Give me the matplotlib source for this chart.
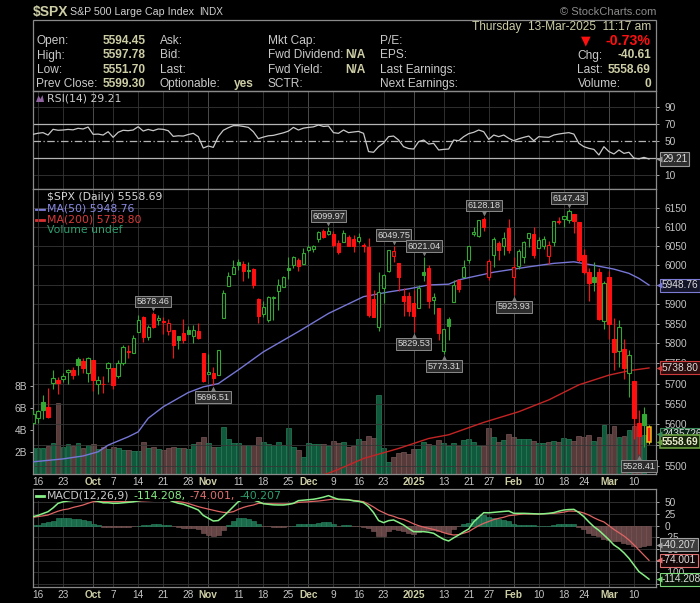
import numpy as np
import pandas as pd
import matplotlib
matplotlib.use("Agg")
import matplotlib.pyplot as plt
import matplotlib.transforms as mtransforms
from matplotlib.patches import Rectangle, Polygon
from matplotlib.lines import Line2D
from matplotlib.ticker import NullLocator

W, H = 700, 603
plt.rcParams['font.family'] = ['Liberation Sans', 'DejaVu Sans']

# trading days on the chart (13-Sep-2024 .. 13-Mar-2025)
holidays = ['2024-11-28', '2024-12-25', '2025-01-01', '2025-01-09', '2025-01-20', '2025-02-17']
days = pd.bdate_range('2024-09-13', '2025-03-13')
days = days[~days.isin(pd.to_datetime(holidays))]

opens = [5603.34, 5615.21, 5655.51, 5641.68, 5702.63, 5709.23, 5711.90, 5727.97, 5733.65, 5762.22, 5755.36, 5726.52,
         5757.73, 5698.19, 5698.19, 5737.80, 5737.80, 5719.14, 5751.80, 5778.36, 5775.09, 5829.81, 5866.74, 5816.58,
         5875.62, 5859.43, 5857.82, 5832.70, 5834.50, 5817.80, 5826.75, 5833.93, 5819.68, 5832.65, 5775.34,
         5723.22, 5725.15, 5722.43, 5864.89, 5947.21, 5976.76, 6008.86, 6003.60, 5985.75, 5989.67, 5912.79, 5874.17,
         5859.71, 5914.46, 5934.45, 5944.36, 5992.28, 6000.03, 6014.11, 6003.98,
         6040.11, 6041.99, 6069.39, 6089.03, 6081.38, 6083.01, 6057.59, 6060.15, 6074.29, 6068.17, 6063.79, 6052.55,
         6047.65, 5912.71, 5842.00, 5940.25, 5984.74, 6024.97, 6006.17, 5920.67, 5919.74,
         5903.26, 5891.07, 5982.81, 5993.26, 5910.66, 5890.01, 5782.38, 5863.01, 5905.21, 5961.24, 5969.17, 6014.12,
         6081.39, 6076.32, 6121.43, 5969.04, 6026.97, 6057.70, 6050.75, 6096.79,
         5969.65, 5998.14, 6020.45, 6072.22, 6083.13, 6046.40, 6049.32, 6025.08, 6060.59, 6115.52, 6121.60, 6117.76,
         6134.50, 6114.82, 6026.69, 5982.73, 5970.87, 5981.88, 5856.74,
         5968.33, 5811.98, 5781.41, 5785.87, 5726.01, 5705.37, 5603.65, 5624.84, 5594.45]
highs = [5636.27, 5636.05, 5670.81, 5689.75, 5733.57, 5715.14, 5725.36, 5735.32, 5741.03, 5767.37, 5763.78, 5765.14,
         5757.73, 5719.14, 5718.78, 5753.42, 5739.34, 5757.60, 5796.80, 5795.03, 5822.13, 5871.41, 5870.36, 5846.52,
         5878.46, 5872.17, 5866.92, 5863.04, 5834.85, 5817.80, 5862.82, 5842.92, 5847.19, 5850.94, 5775.34,
         5772.63, 5741.43, 5783.44, 5936.14, 5983.84, 6012.45, 6017.31, 6009.92, 6008.19, 5993.88, 5915.26, 5908.12,
         5920.30, 5920.67, 5963.13, 5972.90, 6020.75, 6025.42, 6020.16, 6044.17,
         6053.58, 6052.07, 6089.84, 6094.00, 6099.97, 6088.51, 6065.40, 6092.59, 6079.68, 6078.58, 6085.19, 6057.68,
         6070.67, 5935.52, 5982.06, 5978.25, 6040.10, 6049.75, 6006.17, 5940.79, 5929.74,
         5935.09, 5949.34, 6021.04, 6000.68, 5927.89, 5890.01, 5836.59, 5866.31, 5960.61, 5964.69, 6014.96, 6051.51,
         6100.81, 6118.73, 6128.18, 6017.17, 6074.54, 6062.83, 6086.64, 6120.91,
         6022.13, 6042.48, 6062.86, 6084.03, 6101.28, 6073.38, 6076.28, 6063.20, 6116.91, 6127.47, 6129.63, 6147.43,
         6134.50, 6114.82, 6043.65, 5992.65, 6009.82, 5993.69, 5959.40,
         5986.09, 5865.08, 5860.59, 5812.08, 5783.01, 5705.37, 5636.30, 5642.19, 5597.78]
lows = [5601.65, 5604.53, 5614.05, 5615.08, 5686.42, 5674.49, 5704.94, 5698.99, 5712.06, 5721.01, 5727.34, 5703.53,
        5681.28, 5674.00, 5677.37, 5703.74, 5686.85, 5714.56, 5745.02, 5764.76, 5775.09, 5829.81, 5804.48, 5808.34,
        5840.25, 5846.11, 5824.81, 5821.17, 5762.41, 5784.92, 5799.98, 5823.08, 5802.36, 5811.28, 5703.42,
        5723.22, 5696.51, 5722.10, 5864.89, 5947.21, 5976.76, 5986.69, 5960.08, 5965.91, 5942.28, 5853.01, 5865.95,
        5853.48, 5860.58, 5883.61, 5944.36, 5963.91, 5992.27, 5984.87, 6003.98,
        6035.33, 6033.39, 6061.06, 6072.00, 6079.98, 6048.63, 6029.89, 6060.15, 6051.25, 6035.77, 6059.14, 6035.19,
        5867.79, 5866.07, 5832.30, 5902.57, 5981.44, 6007.37, 5932.95, 5869.16, 5868.86,
        5829.53, 5888.66, 5960.01, 5890.68, 5874.78, 5809.82, 5773.31, 5809.29, 5905.21, 5930.12, 5969.17, 6006.88,
        6076.13, 6074.67, 6088.74, 5962.92, 5994.63, 6012.96, 6027.46, 6030.93,
        5923.93, 5990.87, 6007.06, 6046.83, 6019.96, 6044.84, 6042.34, 6003.00, 6050.95, 6107.62, 6099.51, 6111.15,
        6084.59, 6008.56, 5977.83, 5908.49, 5932.69, 5858.78, 5837.66,
        5810.91, 5732.59, 5742.35, 5711.64, 5666.29, 5564.02, 5528.41, 5546.09, 5551.70]
closes = [5626.02, 5633.09, 5634.58, 5618.26, 5713.64, 5702.55, 5718.57, 5732.93, 5722.26, 5745.37, 5738.17, 5762.48,
          5708.75, 5709.54, 5699.94, 5751.07, 5695.94, 5751.13, 5792.04, 5780.05, 5815.03, 5859.85, 5815.26, 5842.47,
          5841.47, 5864.67, 5853.98, 5851.20, 5797.42, 5809.86, 5808.12, 5823.52, 5832.92, 5813.67, 5705.45,
          5728.80, 5712.69, 5782.76, 5929.04, 5973.10, 5995.54, 6001.35, 5983.99, 5985.38, 5949.17, 5870.62, 5893.62,
          5916.98, 5917.11, 5948.71, 5969.34, 5987.37, 6021.63, 5998.74, 6032.38,
          6047.15, 6049.88, 6086.49, 6075.11, 6090.27, 6052.85, 6034.91, 6084.19, 6051.25, 6051.09, 6074.08, 6050.61,
          5872.16, 5867.08, 5930.85, 5974.07, 6040.04, 6037.59, 5970.84, 5906.94, 5881.63,
          5868.55, 5942.47, 5975.38, 5909.03, 5918.25, 5827.04, 5836.22, 5842.91, 5949.91, 5937.34, 5996.66, 6049.24,
          6086.37, 6118.71, 6101.24, 6012.28, 6067.70, 6039.31, 6071.17, 6040.53,
          5994.57, 6037.88, 6061.48, 6083.57, 6025.99, 6066.44, 6068.50, 6051.97, 6115.07, 6114.63, 6129.58, 6144.15,
          6117.52, 6013.13, 5983.25, 5955.25, 5956.06, 5861.57, 5954.50,
          5849.72, 5778.15, 5842.63, 5738.52, 5770.20, 5614.56, 5572.07, 5599.30, 5558.69]
# volume in billions
volume = [2.33, 2.39, 2.39, 2.55, 2.79, 6.42, 2.48, 2.70, 2.55, 2.79, 2.33, 2.64, 2.70, 2.24, 2.42, 2.24, 2.48, 2.33,
          2.18, 2.18, 2.12, 2.09, 2.88, 2.33, 2.48, 2.24, 2.18, 2.39, 2.48, 2.39, 2.33, 2.27, 2.70, 2.88, 3.33, 2.79,
          2.48, 2.48, 4.24, 3.18, 2.79, 2.79, 2.64, 2.64, 2.64, 3.33, 2.88, 2.70, 2.64, 2.88, 2.64, 4.15, 2.42, 2.18,
          1.52, 2.79, 2.70, 2.70, 2.70, 2.52, 3.00, 2.79, 2.88, 2.42, 2.55, 3.18, 3.03, 3.45, 3.24, 7.18, 2.33, 1.12,
          1.52, 1.88, 1.97, 1.82, 2.27, 2.27, 2.88, 2.70, 2.61, 3.06, 2.79, 2.55, 2.79, 2.55, 3.09, 3.18, 2.88, 2.55,
          2.55, 4.15, 3.33, 2.88, 3.09, 3.61, 3.33, 3.18, 3.18, 3.18, 3.00, 2.79, 2.79, 2.88, 3.00, 2.88, 3.30, 3.18,
          3.00, 3.45, 3.39, 3.55, 3.00, 3.33, 4.48, 3.64, 4.36, 3.33, 3.45, 4.00, 4.39, 4.21, 3.55, 0.0]

rsi = [58.2, 59.5, 60.2, 57.4, 64.1, 63.0, 63.3, 64.0, 63.5, 65.3,
       64.5, 66.8, 58.2, 58.5, 57.4, 61.3, 54.7, 60.6, 63.0, 62.5,
       63.3, 67.2, 62.1, 64.0, 62.5, 64.5, 64.1, 62.5, 55.8, 56.5,
       56.2, 58.0, 59.4, 55.5, 42.1, 44.5, 42.9, 55.5, 63.0, 66.0,
       68.4, 68.4, 67.5, 66.4, 61.3, 53.1, 55.0, 56.5, 57.0, 58.5,
       60.0, 62.0, 66.4, 63.3, 65.5, 66.4, 67.0, 69.2, 67.5, 68.0,
       60.2, 59.4, 63.3, 60.2, 61.0, 61.7, 59.4, 37.9, 37.1, 43.7,
       48.0, 55.5, 56.2, 51.5, 43.7, 41.5, 40.9, 49.6, 51.5, 46.8,
       47.6, 39.8, 40.5, 40.9, 51.5, 50.7, 55.5, 59.0, 60.6, 63.3,
       61.3, 52.3, 57.4, 55.5, 57.4, 53.5, 50.7, 53.0, 54.7, 56.2,
       50.7, 55.5, 55.0, 54.7, 57.4, 58.6, 59.5, 60.2, 58.5, 47.6,
       43.7, 41.7, 40.5, 33.9, 43.7, 37.9, 35.1, 39.8, 35.8, 37.1,
       30.2, 29.4, 31.1, 29.21]

macd = [19.3, 22.0, 26.0, 29.9, 38.0, 47.8, 51.0, 52.8, 54.0, 56.0,
        57.0, 58.0, 55.0, 52.0, 49.0, 49.0, 47.8, 48.0, 49.0, 49.9,
        51.0, 53.0, 55.0, 56.0, 57.0, 58.0, 57.0, 56.0, 51.3, 48.0,
        46.0, 42.0, 38.0, 33.5, 22.0, 16.0, 10.0, 11.0, 20.0, 30.0,
        40.7, 51.3, 56.0, 57.0, 55.0, 51.3, 47.0, 45.7, 44.5, 44.2,
        44.2, 45.5, 47.8, 53.5, 54.5, 55.5, 56.5, 58.5, 61.0, 64.2,
        60.0, 56.3, 56.0, 55.5, 53.0, 52.0, 49.2, 40.7, 28.0, 11.0,
        6.5, 10.8, 12.2, 7.0, 1.5, -6.0, -12.7, -12.7, -12.7, -14.0,
        -16.3, -23.0, -29.1, -32.7, -26.0, -19.9, -13.0, -7.0, 8.0, 18.0,
        27.8, 27.5, 28.5, 29.5, 30.5, 31.3, 26.4, 26.4, 26.4, 26.0,
        25.5, 25.0, 25.5, 26.4, 28.0, 31.0, 33.5, 34.5, 34.9, 28.0,
        19.3, 8.0, -2.1, -10.0, -19.9, -30.0, -41.2, -48.4, -58.0, -69.7,
        -84.0, -98.2, -106.0, -114.208]
signal = [17.8, 19.5, 21.0, 22.8, 27.0, 31.0, 34.0, 35.6, 39.0, 41.5,
          44.2, 48.0, 51.3, 51.5, 51.5, 51.3, 51.3, 51.5, 52.0, 52.0,
          52.5, 52.7, 53.0, 53.5, 54.0, 54.5, 55.0, 54.5, 53.0, 51.3,
          50.0, 47.5, 44.0, 40.7, 38.0, 35.5, 33.0, 30.5, 28.5, 28.0,
          30.0, 35.0, 39.0, 42.0, 44.2, 47.8, 47.5, 47.0, 46.7, 46.5,
          46.4, 46.5, 47.5, 49.9, 50.5, 51.0, 52.0, 52.7, 54.0, 55.5,
          57.0, 56.5, 55.5, 54.9, 54.0, 53.0, 51.3, 46.0, 40.0, 33.0,
          28.0, 23.0, 20.0, 16.0, 13.5, 9.0, 4.0, 0.0, -3.0, -5.6,
          -8.0, -11.0, -14.9, -18.0, -19.9, -19.0, -16.0, -12.7, -6.0, 0.0,
          5.0, 9.0, 13.0, 15.7, 18.0, 21.4, 22.5, 24.0, 25.0, 25.0,
          25.0, 25.0, 25.5, 26.0, 26.4, 27.5, 29.0, 31.3, 31.0, 30.0,
          27.0, 22.8, 17.0, 12.0, 8.0, 0.0, -8.0, -15.0, -22.0, -30.6,
          -41.0, -52.0, -63.0, -74.001]

# moving averages (trading-day index, value)
ma50_at = [0, 6, 10, 13, 15, 19, 21, 23, 26, 29, 31, 34, 37, 41, 46, 53, 59, 66, 71, 75, 79, 83, 85, 87,
           92, 99, 104, 108, 112, 116, 119, 121, 123]
ma50_val = [5510, 5517, 5524, 5534, 5550, 5570, 5582, 5615, 5643, 5664, 5678, 5692, 5700, 5734, 5779, 5830,
            5876, 5919, 5931, 5939, 5949, 5951, 5962, 5968, 5982, 5996, 6005, 6009, 6000, 5990, 5979, 5966, 5948.76]
ma200_at = [57, 61, 66, 73, 79, 83, 90, 97, 103, 109, 111, 115, 119, 123]
ma200_val = [5474, 5492, 5518, 5542, 5566, 5575, 5605, 5631, 5660, 5697, 5705, 5721, 5732, 5738.80]

callout_days = ['2024-10-17', '2024-11-04', '2024-12-06', '2024-12-26', '2025-01-02', '2025-01-06',
                '2025-01-13', '2025-01-24', '2025-02-03', '2025-02-19', '2025-03-11']
callout_vals = [5878.46, 5696.51, 6099.97, 6049.75, 5829.53, 6021.04, 5773.31, 6128.18, 5923.93, 6147.43, 5528.41]
callout_side = ['hi', 'lo', 'hi', 'hi', 'lo', 'hi', 'lo', 'hi', 'lo', 'hi', 'lo']

tick_dates = ['2024-09-16', '2024-09-23', '2024-10-01', '2024-10-07', '2024-10-14', '2024-10-21', '2024-10-28',
              '2024-11-01', '2024-11-11', '2024-11-18', '2024-11-25', '2024-12-02', '2024-12-09', '2024-12-16',
              '2024-12-23', '2025-01-02', '2025-01-13', '2025-01-21', '2025-01-27', '2025-02-03', '2025-02-10',
              '2025-02-18', '2025-02-24', '2025-03-03', '2025-03-10']
tick_text = ['16', '23', 'Oct', '7', '14', '21', '28', 'Nov', '11', '18', '25', 'Dec', '9', '16', '23', '2025',
             '13', '21', '27', 'Feb', '10', '18', '24', 'Mar', '10']
months = ['Oct', 'Nov', 'Dec', '2025', 'Feb', 'Mar']

price_grid = [5500, 5550, 5600, 5650, 5700, 5750, 5800, 5850, 5900, 5950, 6000, 6050, 6100, 6150]
price_labels = [5500, 5600, 5650, 5700, 5750, 5800, 5850, 5900, 6000, 6050, 6100, 6150]
rsi_grid = [10, 30, 50, 70, 90]
rsi_labels = [10, 50, 70, 90]
macd_grid = [-125, -100, -75, -50, -25, 0, 25, 50]
macd_labels = [-100, -50, -25, 0, 25, 50]

n = len(closes)
x = np.arange(n)
tick_idx = [days.get_loc(pd.Timestamp(d)) for d in tick_dates]
call_idx = [days.get_loc(pd.Timestamp(d)) for d in callout_days]

BG = 'black'
GRID = '#363636'
GRID_M = '#585858'
SPINE = '#8a8a8a'
TXT = '#c4c4c4'
KHAKI = '#cdcda6'
GREEN = '#33a833'
RED = '#ff1010'

fig = plt.figure(figsize=(W / 100, H / 100), dpi=100, facecolor=BG)


def fx(v):
    return v / W


def fy(v):
    return 1 - v / H


L, R = 32.5, 656


def panel(top, bottom):
    return [fx(L), fy(bottom), (R - L) / W, (bottom - top) / H]


ax_r = fig.add_axes(panel(91, 189))
ax_v = fig.add_axes(panel(189, 474))
ax_p = fig.add_axes(panel(189, 474))
ax_m = fig.add_axes(panel(489, 587))
ax_v.set_zorder(1)
ax_p.set_zorder(2)

for ax in (ax_r, ax_v, ax_p, ax_m):
    ax.set_facecolor(BG)
    ax.set_xlim(-0.1, 124.4)
    for s in ax.spines.values():
        s.set_color(SPINE)
        s.set_linewidth(0.9)
    ax.tick_params(colors=TXT, labelsize=7.3, length=2.5, width=0.6)
for s in ax_v.spines.values():
    s.set_visible(False)
ax_p.patch.set_alpha(0)


def right_ticks(ax, grid, labels):
    ax.yaxis.tick_right()
    ax.set_yticks(grid)
    ax.set_yticklabels([str(v) if v in labels else '' for v in grid])


# vertical grid
for ax in (ax_r, ax_p, ax_m):
    for i, t in zip(tick_idx, tick_text):
        ax.axvline(i, color=GRID_M if t in months else GRID, lw=0.6, zorder=0.6)

# ---------------- RSI panel ----------------
ax_r.set_ylim(-6.1, 109.2)
for lv in rsi_grid:
    if lv in (30, 70):
        ax_r.axhline(lv, color='#b4b4b4', lw=0.9, zorder=1)
    elif lv == 50:
        ax_r.axhline(lv, color='#b4b4b4', lw=0.9, ls=(0, (6, 2, 1, 2)), zorder=1)
    else:
        ax_r.axhline(lv, color=GRID, lw=0.6, zorder=0.6)
ax_r.plot(x, rsi, color='#c8c8c8', lw=0.9, zorder=3)
right_ticks(ax_r, rsi_grid, rsi_labels)
ax_r.set_xticks([])

# ---------------- price / volume panel ----------------
ax_v.set_ylim(0, 285 / 11)
up = [closes[0] >= opens[0]] + [closes[i] >= closes[i - 1] for i in range(1, n)]
vcol = ['#0f5a3c' if u else '#573b3b' for u in up]
vedge = ['#2a7f5a' if u else '#7a5757' for u in up]
ax_v.bar(x, volume, width=0.96, color=vcol, edgecolor=vedge, lw=0.5, zorder=2)
ax_v.set_yticks([2, 4, 6, 8])
ax_v.set_yticklabels(['2B', '4B', '6B', '8B'])
ax_v.tick_params(axis='y', pad=1.5)
ax_v.set_xticks([])

ax_p.set_yscale('log')
ax_p.set_ylim(5481, 6201.7)
for lv in price_grid:
    ax_p.axhline(lv, color=GRID, lw=0.6, zorder=0.6)
right_ticks(ax_p, price_grid, price_labels)
ax_p.yaxis.set_minor_locator(NullLocator())

ax_p.plot(ma50_at, ma50_val, color='#7676d6', lw=1.0, zorder=3)
ax_p.plot(ma200_at, ma200_val, color='#c42424', lw=1.0, zorder=3)

for i in range(n):
    o, h, l, c = opens[i], highs[i], lows[i], closes[i]
    col = GREEN if up[i] else RED
    hollow = c > o
    lo_b, hi_b = min(o, c), max(o, c)
    if hi_b - lo_b < 1.5:
        hi_b = lo_b + 1.5
    edge = '#e0c020' if i == n - 1 else col
    ax_p.vlines(i, l, h, color=edge, lw=0.8, zorder=4)
    ax_p.add_patch(Rectangle((i - 0.33, lo_b), 0.66, hi_b - lo_b, facecolor=BG if hollow else col,
                             edgecolor=edge, lw=1.1 if i == n - 1 else 0.8, zorder=5))

# swing-point callouts
for i, val, side in zip(call_idx, callout_vals, callout_side):
    dy = 11 if side == 'hi' else -12
    ax_p.annotate(f'{val:.2f}', xy=(i, val), xytext=(0, dy), textcoords='offset pixels', ha='center',
                  va='center', fontsize=6.6, color='#dadada', zorder=12, annotation_clip=False,
                  bbox=dict(boxstyle='square,pad=0.15', fc='#2c2c2c', ec='#8a8a8a', lw=0.7))
    off = mtransforms.offset_copy(ax_p.transData, fig=fig, x=0, y=4 if side == 'hi' else -4, units='dots')
    ax_p.plot([i], [val], marker='v' if side == 'hi' else '^', ms=4.5, color='#7c7c7c', mec='none',
              transform=off, zorder=11, clip_on=False)


def date_labels(ax):
    ax.set_xticks(tick_idx)
    ax.set_xticklabels(tick_text)
    ax.tick_params(axis='x', length=0, pad=2.0)
    for lab in ax.get_xticklabels():
        if lab.get_text() in months:
            lab.set_fontweight('bold')
            lab.set_color(KHAKI)


date_labels(ax_p)

# ---------------- MACD panel ----------------
ax_m.set_ylim(-131, 78.4)
for lv in macd_grid:
    ax_m.axhline(lv, color=GRID, lw=0.6, zorder=0.6)
hist = np.array(macd) - np.array(signal)
ax_m.bar(x, hist, width=1.0, color=['#1b6a4c' if h >= 0 else '#644444' for h in hist],
         edgecolor=['#2d8a64' if h >= 0 else '#805a5a' for h in hist], lw=0.4, zorder=2)
ax_m.plot(x, signal, color='#e06464', lw=0.9, zorder=3)
ax_m.plot(x, macd, color='#86f086', lw=1.1, zorder=4)
ax_m.add_patch(Rectangle((fx(33.5), fy(500.5)), (290 - 33.5) / W, 11 / H, transform=fig.transFigure,
                         fc=BG, ec='none', zorder=8, clip_on=False))
right_ticks(ax_m, macd_grid, macd_labels)
date_labels(ax_m)


# right-edge value tags
def rtag(ax, val, text, ec, fc, tc='#dcdcdc', bold=False, ytrans=None):
    tr = mtransforms.blended_transform_factory(ax.transAxes, ytrans if ytrans is not None else ax.transData)
    ax.annotate(text, xy=(1, val), xycoords=tr, xytext=(6, 0), textcoords='offset pixels', ha='left',
                va='center', fontsize=7.3, color=tc, fontweight='bold' if bold else 'normal',
                annotation_clip=False, zorder=20,
                bbox=dict(boxstyle='square,pad=0.15', fc=fc, ec=ec, lw=1.2 if bold else 0.8))
    off = tr + mtransforms.ScaledTranslation(3.5 / 100, 0, fig.dpi_scale_trans)
    ax.plot([1], [val], marker='<', ms=4, color=ec, mec='none', transform=off, clip_on=False, zorder=21)


rtag(ax_r, 29.21, '29.21', '#9a9a9a', '#2e2e2e')
rtag(ax_p, 5948.76, '5948.76', '#7c7cd4', '#15152a')
rtag(ax_p, 5738.80, '5738.80', '#d03a3a', '#2a0c0c')
rtag(ax_p, 3.6, '2435726000', '#3a8a5a', '#0c2418', ytrans=ax_v.transData)
rtag(ax_p, 5558.69, '5558.69', '#6aa040', '#16240c', tc='#ececcc', bold=True)
rtag(ax_m, -40.207, '-40.207', '#a0a0a0', '#3c3c3c')
rtag(ax_m, -74.001, '-74.001', '#e07070', '#120606')
rtag(ax_m, -114.208, '-114.208', '#78d878', '#061206')

# ---------------- header ----------------
fig.add_artist(Rectangle((fx(32.5), fy(91)), (656 - 32.5) / W, (91 - 19.5) / H, transform=fig.transFigure,
                         fill=False, ec=SPINE, lw=0.9))


def ftxt(px, py, s, **kw):
    kw.setdefault('va', 'center')
    return fig.text(fx(px), fy(py), s, **kw)


ftxt(33, 12, '$SPX', fontsize=10, fontweight='bold', color=KHAKI)
ftxt(70, 12, 'S&P 500 Large Cap Index', fontsize=7.7, color='#d0d0d0')
ftxt(199, 12, 'INDX', fontsize=7.2, color='#d0d0d0')
ftxt(656, 12, '\u00a9 StockCharts.com', fontsize=8, color='#8c8c8c', ha='right')

rows = [40.7, 55.5, 69.8, 84.3]
col1 = ['Open:', 'High:', 'Low:', 'Prev Close:']
col1_vals = ['5594.45', '5597.78', '5551.70', '5599.30']
col2 = ['Ask:', 'Bid:', 'Last:', 'Optionable:']
col3 = ['Mkt Cap:', 'Fwd Dividend:', 'Fwd Yield:', 'SCTR:']
col3_vals = ['', 'N/A', 'N/A', '']
col4 = ['P/E:', 'EPS:', 'Last Earnings:', 'Next Earnings:']
hs = 8.6
for r, a, av, b, c, cv, d in zip(rows, col1, col1_vals, col2, col3, col3_vals, col4):
    ftxt(36.5, r, a, fontsize=hs, color='#cacaca')
    ftxt(146, r, av, fontsize=hs, color=KHAKI, fontweight='bold', ha='right')
    ftxt(160, r, b, fontsize=hs, color='#cacaca')
    ftxt(268, r, c, fontsize=hs, color='#cacaca')
    if cv:
        ftxt(366, r, cv, fontsize=hs, color=KHAKI, fontweight='bold', ha='right')
    ftxt(380, r, d, fontsize=hs, color='#cacaca')
ftxt(254, rows[3], 'yes', fontsize=hs, color=KHAKI, fontweight='bold', ha='right')

ftxt(651, 26.7, 'Thursday  13-Mar-2025  11:17 am', fontsize=hs, color=KHAKI, ha='right')
ftxt(586, 41, '\u25bc', fontsize=9, color=RED, ha='center', family='DejaVu Sans')
ftxt(651, 41, '-0.73%', fontsize=10.2, color=RED, fontweight='bold', ha='right')
ftxt(577.5, rows[1], 'Chg:', fontsize=hs, color='#cacaca')
ftxt(651, rows[1], '-40.61', fontsize=hs, color=KHAKI, fontweight='bold', ha='right')
ftxt(577.5, rows[2], 'Last:', fontsize=hs, color='#cacaca')
ftxt(651, rows[2], '5558.69', fontsize=hs, color=KHAKI, fontweight='bold', ha='right')
ftxt(577.5, rows[3], 'Volume:', fontsize=hs, color='#cacaca')
ftxt(651, rows[3], '0', fontsize=hs, color=KHAKI, fontweight='bold', ha='right')

# ---------------- panel legends ----------------
lg = dict(fontsize=7.8, family='DejaVu Sans')
fig.add_artist(Polygon([(fx(36), fy(102)), (fx(38.5), fy(95.5)), (fx(40.5), fy(99)), (fx(42.5), fy(95)),
                        (fx(44), fy(102))], closed=True, transform=fig.transFigure, fc='#9064a0', ec='none'))
ftxt(47, 98.5, 'RSI(14) 29.21', color='#cacaca', **lg)

fig.add_artist(Rectangle((fx(36), fy(200)), 2.2 / W, 6 / H, transform=fig.transFigure, fc=BG, ec=GREEN, lw=0.8))
fig.add_artist(Rectangle((fx(40.5), fy(199)), 2.2 / W, 5 / H, transform=fig.transFigure, fc=GREEN, ec=GREEN, lw=0.8))
ftxt(47, 197.3, '$SPX (Daily) 5558.69', color='#d6d6d6', **lg)
fig.add_artist(Line2D([fx(35.5), fx(44)], [fy(208.7)] * 2, transform=fig.transFigure, color='#7c7cd8', lw=2))
ftxt(47, 208.7, 'MA(50) 5948.76', color='#8a8ae6', **lg)
fig.add_artist(Line2D([fx(35.5), fx(44)], [fy(219.7)] * 2, transform=fig.transFigure, color='#d83030', lw=2))
ftxt(47, 219.7, 'MA(200) 5738.80', color='#d83a3a', **lg)
for bx, bh in zip([35.5, 38.5, 41.5], [6, 8, 5]):
    fig.add_artist(Rectangle((fx(bx), fy(234)), 2.2 / W, bh / H, transform=fig.transFigure, fc='#2a9a6a', ec='none'))
ftxt(47, 230, 'Volume undef', color='#2e9e6e', **lg)

# MACD legend, pieces chained one after another
fig.add_artist(Line2D([fx(35.5), fx(44)], [fy(495.7)] * 2, transform=fig.transFigure, color='#86f086', lw=2))
anchor = ftxt(47, 495.7, 'MACD(12,26,9)', color='#cacaca', zorder=9, **lg)
for s, c in [('-114.208,', '#86f086'), ('-74.001,', '#e07070'), ('-40.207', '#2e9e6e')]:
    anchor = ax_m.annotate(s, xy=(1, 0), xycoords=anchor, xytext=(4, 0), textcoords='offset pixels',
                           ha='left', va='bottom', color=c, annotation_clip=False, zorder=9, **lg)

fig.savefig('out.png', dpi=100, facecolor=BG)
